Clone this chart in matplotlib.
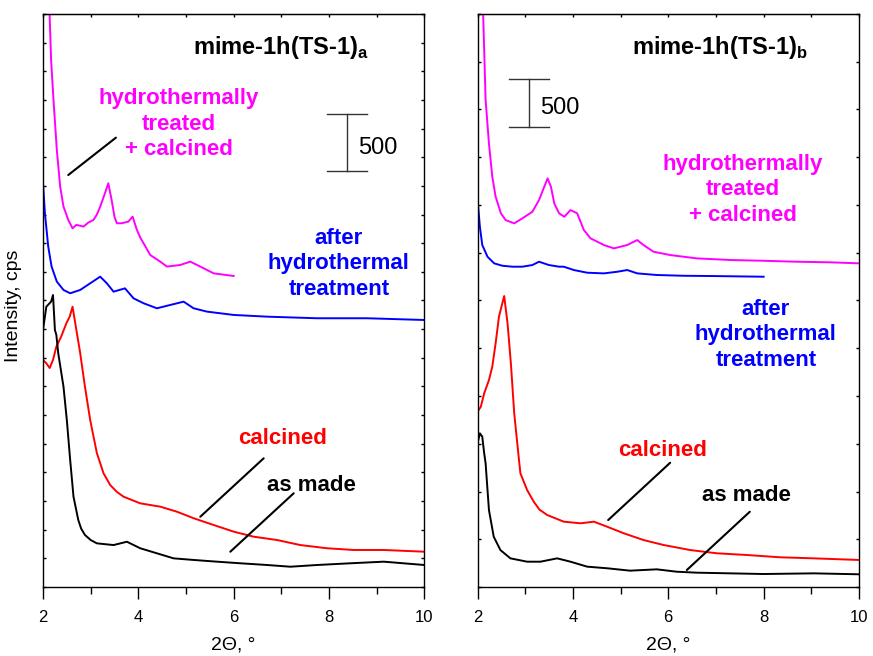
import numpy as np
import matplotlib
matplotlib.use("Agg")
import matplotlib.pyplot as plt
from matplotlib.ticker import MultipleLocator

plt.rcParams["font.family"] = ["Liberation Sans", "DejaVu Sans"]
plt.rcParams["mathtext.fontset"] = "custom"
plt.rcParams["mathtext.rm"] = "Liberation Sans"
plt.rcParams["mathtext.bf"] = "Liberation Sans:bold"

# ---------------------------------------------------------
# Data (2 theta in deg, intensity in cps)
# ---------------------------------------------------------

# panel a
a_htc_x = [2.10, 2.13, 2.17, 2.22, 2.29, 2.36, 2.43, 2.53, 2.62, 2.70, 2.85, 2.95, 3.06,
           3.13, 3.20, 3.30, 3.37, 3.44, 3.50, 3.55, 3.65, 3.79, 3.88, 3.97, 4.04,
           4.11, 4.25, 4.46, 4.60, 4.88, 5.09, 5.30, 5.58, 6.00]
a_htc_y = [7000, 5100, 4600, 4250, 3814, 3494, 3319, 3203, 3130, 3160, 3145, 3180, 3203,
           3250, 3319, 3436, 3523, 3377, 3230, 3174, 3174, 3188, 3232, 3116, 3050,
           2999, 2897, 2839, 2796, 2810, 2839, 2796, 2737, 2714]

a_ht_x = [2.00, 2.04, 2.11, 2.18, 2.29, 2.43, 2.57, 2.78, 2.99, 3.20, 3.34, 3.48, 3.72,
          3.90, 4.11, 4.39, 4.67, 4.95, 5.16, 5.44, 6.00, 6.70, 7.75, 8.80, 10.0]
a_ht_y = [3525, 3261, 2970, 2796, 2665, 2592, 2563, 2592, 2650, 2708, 2650, 2577, 2606,
          2519, 2476, 2432, 2461, 2490, 2432, 2403, 2374, 2359, 2345, 2345, 2330]

a_calc_x = [2.00, 2.07, 2.14, 2.21, 2.28, 2.38, 2.49, 2.56, 2.62, 2.70, 2.78, 2.88, 2.99,
            3.13, 3.27, 3.41, 3.55, 3.69, 4.04, 4.46, 4.81, 5.16, 5.58, 6.00, 6.42,
            6.91, 7.40, 7.96, 8.52, 9.15, 10.0]
a_calc_y = [1981, 1952, 1911, 1981, 2097, 2184, 2301, 2359, 2446, 2243, 2042, 1748, 1457,
            1169, 992, 890, 830, 788, 730, 701, 657, 600, 541, 483, 439,
            410, 366, 338, 323, 323, 308]

a_made_x = [2.00, 2.07, 2.17, 2.21, 2.25, 2.28, 2.32, 2.43, 2.50, 2.57, 2.64, 2.74, 2.80,
            2.88, 3.00, 3.13, 3.48, 3.76, 4.04, 4.39, 4.74, 5.16, 5.65, 6.14, 6.70,
            7.19, 7.75, 8.45, 9.15, 10.0]
a_made_y = [2243, 2446, 2490, 2548, 2243, 2199, 2039, 1748, 1457, 1108, 788, 585, 510,
            454, 410, 381, 366, 395, 338, 294, 250, 236, 221, 207, 192,
            177, 192, 207, 221, 192]

# panel b
b_htc_x = [2.09, 2.17, 2.24, 2.31, 2.38, 2.49, 2.59, 2.77, 2.94, 3.15, 3.29, 3.40, 3.47,
           3.54, 3.61, 3.71, 3.82, 3.95, 4.09, 4.23, 4.37, 4.65, 4.86, 5.14, 5.35,
           5.48, 5.69, 6.04, 6.60, 7.30, 8.00, 8.69, 9.39, 10.0]
b_htc_y = [6500, 5099, 4645, 4296, 4087, 3913, 3842, 3808, 3860, 3929, 4052, 4191, 4279,
           4191, 4017, 3913, 3877, 3947, 3913, 3738, 3651, 3581, 3546, 3581, 3633,
           3581, 3511, 3476, 3441, 3424, 3416, 3406, 3400, 3389]

b_ht_x = [2.00, 2.05, 2.10, 2.21, 2.35, 2.52, 2.73, 2.94, 3.15, 3.29, 3.50, 3.71, 3.81,
          4.02, 4.30, 4.65, 4.93, 5.14, 5.35, 5.76, 6.32, 6.95, 8.00]
b_ht_y = [4069, 3772, 3581, 3458, 3389, 3364, 3354, 3354, 3371, 3406, 3371, 3354, 3354,
          3319, 3291, 3284, 3301, 3319, 3284, 3267, 3259, 3256, 3249]

b_calc_x = [2.00, 2.07, 2.14, 2.24, 2.31, 2.38, 2.45, 2.52, 2.56, 2.63, 2.70, 2.77, 2.87,
            2.90, 3.04, 3.18, 3.30, 3.46, 3.81, 4.16, 4.44, 4.72, 5.07, 5.48, 5.90,
            6.46, 7.02, 7.65, 8.35, 9.05, 10.0]
b_calc_y = [1835, 1888, 2028, 2167, 2307, 2552, 2830, 2970, 3047, 2761, 2342, 1819, 1330,
            1190, 1016, 893, 810, 754, 684, 667, 684, 631, 562, 492, 440,
            387, 353, 335, 311, 300, 283]

b_made_x = [2.00, 2.05, 2.10, 2.14, 2.17, 2.24, 2.34, 2.48, 2.69, 3.04, 3.32, 3.67, 3.95,
            4.30, 4.72, 5.20, 5.76, 6.18, 6.60, 7.30, 8.00, 9.05, 10.0]
b_made_y = [1505, 1609, 1574, 1400, 1295, 806, 527, 387, 300, 265, 265, 300, 265,
            213, 196, 171, 185, 160, 150, 143, 136, 143, 133]

MAGENTA = "#ff00ff"
BLUE = "#0000ff"
RED = "#ff0000"
BLACK = "#000000"


def style_axis(ax, ymax, ystep):
    ax.set_xlim(2, 10)
    ax.set_ylim(0, ymax)
    ax.xaxis.set_major_locator(MultipleLocator(2))
    ax.xaxis.set_minor_locator(MultipleLocator(1))
    ax.yaxis.set_major_locator(MultipleLocator(ystep))
    ax.tick_params(axis="x", which="major", direction="out", length=8.5, width=1,
                   labelsize=12, pad=8)
    ax.tick_params(axis="x", which="minor", direction="out", length=5, width=1)
    ax.tick_params(axis="y", direction="in", length=2.5, width=1, left=True,
                   right=True, labelleft=False)
    top = ax.secondary_xaxis("top")
    top.xaxis.set_major_locator(MultipleLocator(1))
    top.tick_params(direction="in", length=2.5, width=1, labeltop=False)
    for sp in ax.spines.values():
        sp.set_linewidth(1)
    ax.set_xlabel("2\u0398, \u00b0", fontsize=14, labelpad=8)


def scale_bar(ax, x, x0, x1, y0, y1):
    ax.plot([x, x], [y0, y1], color="#333333", lw=1)
    ax.plot([x0, x1], [y0, y0], color="#333333", lw=1)
    ax.plot([x0, x1], [y1, y1], color="#333333", lw=1)


def leader(ax, p0, p1):
    ax.annotate("", xy=p0, xytext=p1,
                arrowprops=dict(arrowstyle="-", color="black", lw=1.5,
                                shrinkA=0, shrinkB=0))


fig = plt.figure(figsize=(8.73, 6.56), dpi=100)
ax1 = fig.add_axes([43 / 873, 69 / 656, 381.3 / 873, 573 / 656])
ax2 = fig.add_axes([477.5 / 873, 69 / 656, 381.5 / 873, 573 / 656])

lw = 1.4

# ---- panel a ----
ax1.plot(a_htc_x, a_htc_y, color=MAGENTA, lw=lw)
ax1.plot(a_ht_x, a_ht_y, color=BLUE, lw=lw)
ax1.plot(a_calc_x, a_calc_y, color=RED, lw=lw)
ax1.plot(a_made_x, a_made_y, color=BLACK, lw=lw)
style_axis(ax1, 5000, 250)
ax1.set_ylabel("Intensity, cps", fontsize=14)
ax1.yaxis.set_label_coords(-0.055, 0.49)

ax1.text(0.393, 0.930, "mime-1h(TS-1)$_\\mathbf{a}$", transform=ax1.transAxes,
         fontsize=17, fontweight="bold", ha="left", va="baseline")
ax1.text(0.357, 0.808, "hydrothermally\ntreated\n+ calcined", transform=ax1.transAxes,
         fontsize=16, fontweight="bold", color=MAGENTA, ha="center", va="center",
         linespacing=1.3)
ax1.text(0.776, 0.564, "after\nhydrothermal\ntreatment", transform=ax1.transAxes,
         fontsize=16, fontweight="bold", color=BLUE, ha="center", va="center",
         linespacing=1.3)
ax1.text(0.627, 0.260, "calcined", transform=ax1.transAxes, fontsize=16,
         fontweight="bold", color=RED, ha="center", va="center")
ax1.text(0.703, 0.178, "as made", transform=ax1.transAxes, fontsize=16,
         fontweight="bold", color=BLACK, ha="center", va="center")
ax1.text(0.826, 0.766, "500", transform=ax1.transAxes, fontsize=17,
         ha="left", va="center")
scale_bar(ax1, 8.38, 7.96, 8.80, 3630, 4130)
leader(ax1, (2.53, 3595), (3.53, 3921))
leader(ax1, (5.30, 613), (6.63, 1123))
leader(ax1, (5.93, 308), (7.26, 818))

# ---- panel b ----
ax2.plot(b_htc_x, b_htc_y, color=MAGENTA, lw=lw)
ax2.plot(b_ht_x, b_ht_y, color=BLUE, lw=lw)
ax2.plot(b_calc_x, b_calc_y, color=RED, lw=lw)
ax2.plot(b_made_x, b_made_y, color=BLACK, lw=lw)
style_axis(ax2, 6000, 500)

ax2.text(0.405, 0.930, "mime-1h(TS-1)$_\\mathbf{b}$", transform=ax2.transAxes,
         fontsize=17, fontweight="bold", ha="left", va="baseline")
ax2.text(0.696, 0.693, "hydrothermally\ntreated\n+ calcined", transform=ax2.transAxes,
         fontsize=16, fontweight="bold", color=MAGENTA, ha="center", va="center",
         linespacing=1.3)
ax2.text(0.756, 0.440, "after\nhydrothermal\ntreatment", transform=ax2.transAxes,
         fontsize=16, fontweight="bold", color=BLUE, ha="center", va="center",
         linespacing=1.3)
ax2.text(0.484, 0.239, "calcined", transform=ax2.transAxes, fontsize=16,
         fontweight="bold", color=RED, ha="center", va="center")
ax2.text(0.706, 0.159, "as made", transform=ax2.transAxes, fontsize=16,
         fontweight="bold", color=BLACK, ha="center", va="center")
ax2.text(0.164, 0.836, "500", transform=ax2.transAxes, fontsize=17,
         ha="left", va="center")
scale_bar(ax2, 3.08, 2.66, 3.50, 4816, 5316)
leader(ax2, (4.74, 701), (6.04, 1301))
leader(ax2, (6.39, 178), (7.71, 788))

fig.savefig("out.png", dpi=100)
